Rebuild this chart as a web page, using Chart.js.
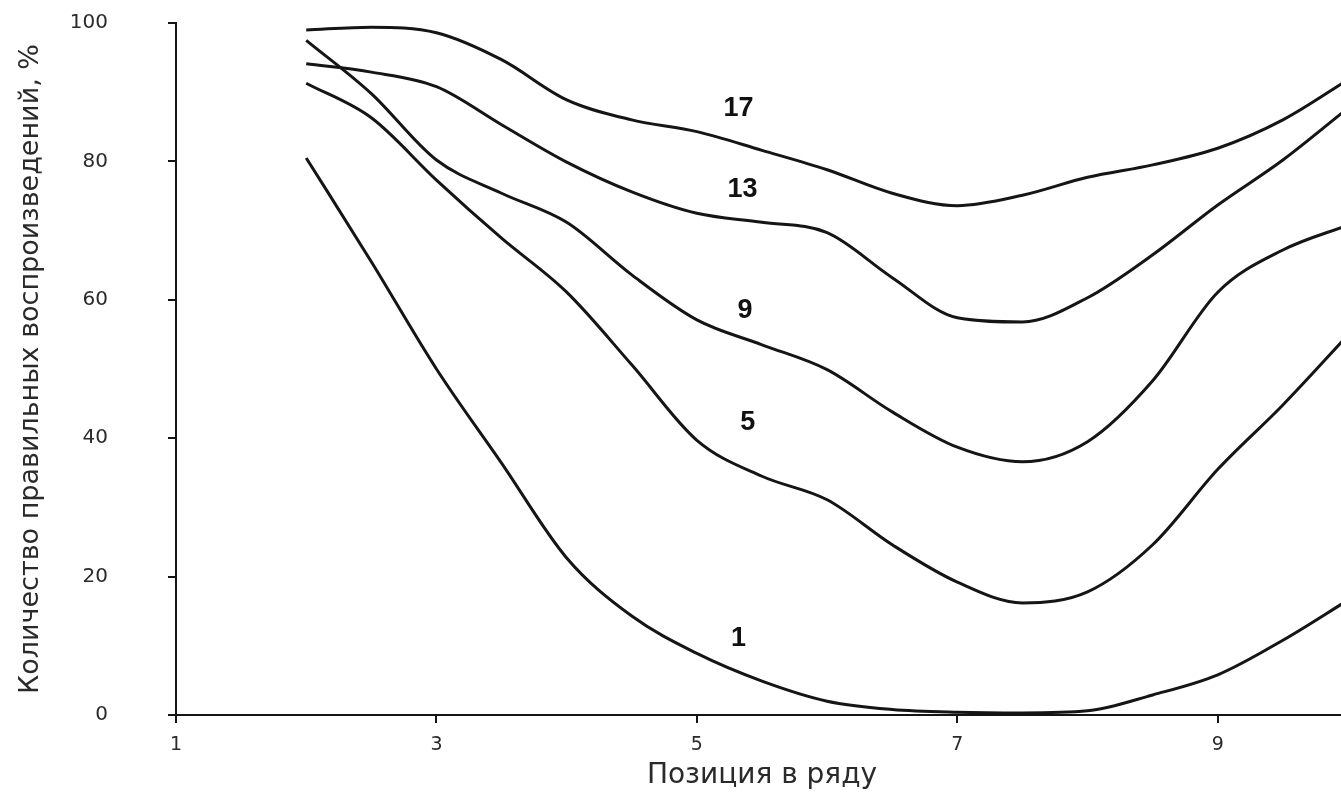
<!DOCTYPE html>
<html>
<head>
<meta charset="utf-8">
<script src="https://cdn.jsdelivr.net/npm/chart.js@4.4.1/dist/chart.umd.min.js"></script>
<style>
  html, body { margin: 0; padding: 0; background: #ffffff; overflow: hidden; }
  #wrap { width: 1341px; height: 795px; overflow: hidden; }
  canvas { display: block; }
</style>
</head>
<body>
<div id="wrap"><canvas id="c" width="1350" height="795"></canvas></div>
<script>
// ---- data ----
const positions = [2, 2.5, 3, 3.5, 4, 4.5, 5, 5.5, 6, 6.5, 7, 7.5, 8, 8.5, 9, 9.5, 10];
const series17 = [99.0, 99.4, 98.6, 94.7, 88.9, 86.0, 84.3, 81.6, 78.8, 75.4, 73.6, 75.1, 77.7, 79.5, 81.9, 86.0, 91.8];
const series13 = [94.1, 92.9, 90.8, 85.3, 79.9, 75.6, 72.5, 71.2, 69.7, 63.2, 57.4, 56.8, 60.3, 66.5, 73.7, 80.2, 87.7];
const series9  = [97.5, 89.8, 80.2, 75.4, 71.2, 63.6, 57.1, 53.5, 49.9, 43.8, 38.7, 36.6, 39.5, 48.3, 61.1, 67.2, 70.8];
const series5  = [91.3, 86.3, 77.3, 68.9, 61.1, 50.6, 39.7, 34.5, 31.1, 24.6, 19.2, 16.2, 17.8, 24.6, 35.5, 44.8, 54.9];
const series1  = [80.5, 65.5, 50.0, 36.4, 22.7, 14.3, 8.9, 4.9, 2.0, 0.8, 0.4, 0.3, 0.6, 2.9, 5.8, 10.8, 16.6];
const seriesNames = ['17', '13', '9', '5', '1'];
const labelX = [5.32, 5.35, 5.37, 5.39, 5.32];
const labelY = [87.7, 75.9, 58.5, 42.2, 11.1];
const xTickValues = [1, 3, 5, 7, 9];
const yTickValues = [0, 20, 40, 60, 80, 100];
const xTitle = 'Позиция в ряду';
const yTitle = 'Количество правильных воспроизведений, %';

const allSeries = [series17, series13, series9, series5, series1];
const ink = '#151515';
const textInk = '#2a2a2a';

const datasets = allSeries.map((vals, i) => ({
  label: seriesNames[i],
  data: vals.map((v, j) => ({ x: positions[j], y: v })),
  borderColor: ink,
  borderWidth: 3,
  pointRadius: 0,
  fill: false,
  cubicInterpolationMode: 'monotone'
}));

const curveLabels = {
  id: 'curveLabels',
  afterDatasetsDraw(chart) {
    const { ctx, scales } = chart;
    ctx.save();
    ctx.fillStyle = '#111';
    ctx.font = 'bold 27px "Liberation Sans", Arial, sans-serif';
    ctx.textAlign = 'center';
    ctx.textBaseline = 'middle';
    seriesNames.forEach((n, i) => {
      ctx.fillText(n, scales.x.getPixelForValue(labelX[i]), scales.y.getPixelForValue(labelY[i]));
    });
    ctx.restore();
  }
};

new Chart(document.getElementById('c'), {
  type: 'line',
  data: { datasets },
  options: {
    responsive: false,
    animation: false,
    devicePixelRatio: 1,
    layout: { padding: { top: 23, right: 2, left: 8, bottom: 0 } },
    plugins: { legend: { display: false }, tooltip: { enabled: false } },
    scales: {
      x: {
        type: 'linear',
        min: 1, max: 10,
        afterBuildTicks: s => { s.ticks = xTickValues.map(v => ({ value: v })); },
        afterFit: s => { s.height = 80; s.paddingLeft = 0; s.paddingRight = 0; },
        grid: { display: true, drawOnChartArea: false, drawTicks: true, tickLength: 8, color: ink, lineWidth: 2 },
        border: { display: true, color: ink, width: 2 },
        ticks: { color: textInk, padding: 11, font: { family: '"DejaVu Sans", sans-serif', size: 19 }, maxRotation: 0 },
        title: { display: true, text: xTitle, color: textInk, font: { family: '"DejaVu Sans", sans-serif', size: 28 }, padding: { top: 0, bottom: 2 } }
      },
      y: {
        min: 0, max: 100,
        afterBuildTicks: s => { s.ticks = yTickValues.map(v => ({ value: v })); },
        afterFit: s => { s.width = 168; s.paddingTop = 0; s.paddingBottom = 0; },
        grid: { display: true, drawOnChartArea: false, drawTicks: true, tickLength: 8, color: ink, lineWidth: 2 },
        border: { display: true, color: ink, width: 2 },
        ticks: { color: textInk, padding: 60, font: { family: '"DejaVu Sans", sans-serif', size: 20 } },
        title: { display: true, text: yTitle, color: textInk, font: { family: '"DejaVu Sans", sans-serif', size: 27 }, padding: { top: 7, bottom: 0 } }
      }
    }
  },
  plugins: [curveLabels]
});
</script>
</body>
</html>
